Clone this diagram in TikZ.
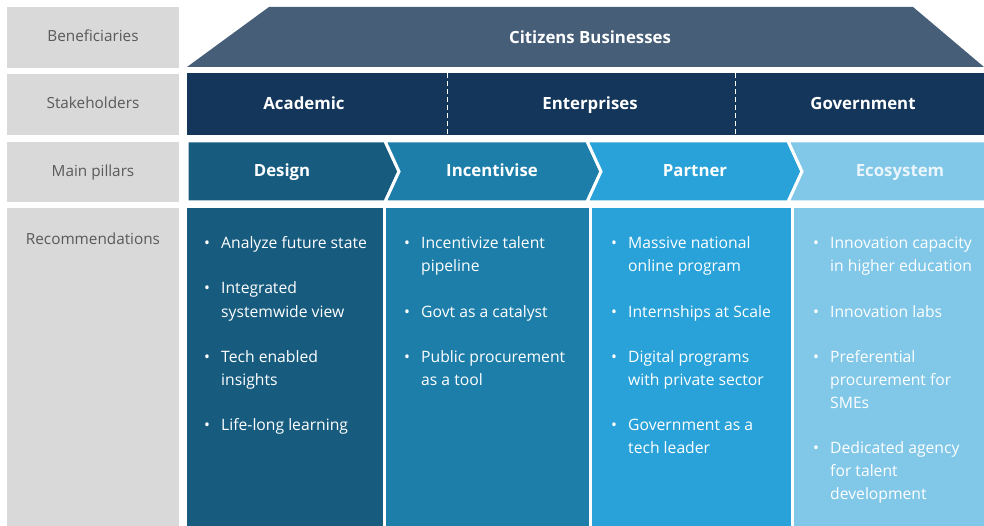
\documentclass[tikz,border=0pt]{standalone}
\usepackage{fontspec}
\setmainfont{Open Sans}
\definecolor{grayb}{HTML}{D9D9D9}
\definecolor{grayt}{HTML}{595959}
\definecolor{benef}{HTML}{465E78}
\definecolor{stake}{HTML}{13365A}
\definecolor{cdes}{HTML}{175B7F}
\definecolor{cinc}{HTML}{1D7EA9}
\definecolor{cpar}{HTML}{28A2D8}
\definecolor{ceco}{HTML}{80C7E8}
\definecolor{ecot}{HTML}{EAF6FB}
\begin{document}
\begin{tikzpicture}[x=1pt,y=-1pt,
  labbox/.style={fill=grayb,draw=none,inner sep=0,minimum width=172pt},
  labtxt/.style={text=grayt,font=\fontsize{15.3}{18}\selectfont,inner sep=0,anchor=base},
  head/.style={text=white,font=\fontsize{16.8}{20}\bfseries\selectfont,inner sep=0,anchor=base},
  chev/.style={draw=white,line width=3pt,line join=miter},
  body/.style={font=\fontsize{15.7}{23}\selectfont,inner sep=0,anchor=base west,text=white},
  bul/.style={font=\fontsize{15.7}{23}\selectfont,inner sep=0,anchor=base west,text=white},
]
\useasboundingbox (0,0) rectangle (984,526);
\fill[white] (0,0) rectangle (984,526);
% label column
\node[labbox,minimum height=61pt,anchor=north west] (lb1) at (7,7) {};
\node[labbox,minimum height=61pt,anchor=north west] (lb2) at (7,74) {};
\node[labbox,minimum height=60pt,anchor=north west] (lb3) at (7,142) {};
\node[labbox,minimum height=318pt,anchor=north west] (lb4) at (7,208) {};
\node[labtxt] (t1) at (93,41.5) {Beneficiaries};
\node[labtxt] (t2) at (93,108.5) {Stakeholders};
\node[labtxt] (t3) at (93,176.5) {Main pillars};
\node[labtxt] (t4) at (93,244.5) {Recommendations};
% beneficiaries trapezoid
\fill[benef] (269,7) -- (913,7) -- (984,67) -- (187,67) -- cycle;
\node[head] (ben) at (590,44) {Citizens Businesses};
% stakeholders
\fill[stake] (187,73) rectangle (984,135);
\draw[white,line width=1pt,dash pattern=on 5pt off 3pt] (447,73) -- (447,135);
\draw[white,line width=1pt,dash pattern=on 5pt off 3pt] (735,73) -- (735,135);
\node[head] (sa) at (304,110) {Academic};
\node[head] (se) at (590,110) {Enterprises};
\node[head] (sg) at (863,110) {Government};
% pillars
\fill[cdes] (187,141) rectangle (984,202);
\filldraw[chev,fill=cdes] (187,141) -- (385,141) -- (399,171.5) -- (385,202) -- (187,202) -- cycle;
\filldraw[chev,fill=cinc] (385,141) -- (587,141) -- (601,171.5) -- (587,202) -- (385,202) -- (399,171.5) -- cycle;
\filldraw[chev,fill=cpar] (587,141) -- (788,141) -- (802,171.5) -- (788,202) -- (587,202) -- (601,171.5) -- cycle;
\filldraw[chev,fill=ceco] (788,141) -- (990,141) -- (990,202) -- (788,202) -- (802,171.5) -- cycle;
\fill[white] (185,139) rectangle (187,204);
\node[head] (pd) at (282,177) {Design};
\node[head] (pi) at (492,177) {Incentivise};
\node[head] (pp) at (695,177) {Partner};
\node[head,text=ecot] (pe) at (900,177) {Ecosystem};
% recommendation columns
\fill[cdes] (187,208) rectangle (383,526);
\fill[cinc] (386,208) rectangle (589,526);
\fill[cpar] (592,208) rectangle (791,526);
\fill[ceco] (794,208) rectangle (984,526);
% Design items
\node[bul] (d0) at (204,249) {•};
\node[body] (d1) at (221,249) {Analyze future state};
\node[bul] (d2b) at (204,294) {•};
\node[body] (d2) at (221,294) {Integrated};
\node[body] (d2x) at (221,317) {systemwide view};
\node[bul] (d3b) at (204,362) {•};
\node[body] (d3) at (221,362) {Tech enabled};
\node[body] (d3x) at (221,385) {insights};
\node[bul] (d4b) at (204,430) {•};
\node[body] (d4) at (221,430) {Life-long learning};
% Incentivise items
\node[bul] (i1b) at (404,249) {•};
\node[body] (i1) at (421,249) {Incentivize talent};
\node[body] (i1x) at (421,272) {pipeline};
\node[bul] (i2b) at (404,317) {•};
\node[body] (i2) at (421,317) {Govt as a catalyst};
\node[bul] (i3b) at (404,362) {•};
\node[body] (i3) at (421,362) {Public procurement};
\node[body] (i3x) at (421,385) {as a tool};
% Partner items
\node[bul] (p1b) at (611,249) {•};
\node[body] (p1) at (628,249) {Massive national};
\node[body] (p1x) at (628,272) {online program};
\node[bul] (p2b) at (611,317) {•};
\node[body] (p2) at (628,317) {Internships at Scale};
\node[bul] (p3b) at (611,362) {•};
\node[body] (p3) at (628,362) {Digital programs};
\node[body] (p3x) at (628,385) {with private sector};
\node[bul] (p4b) at (611,430) {•};
\node[body] (p4) at (628,430) {Government as a};
\node[body] (p4x) at (628,453) {tech leader};
% Ecosystem items
\begin{scope}[every node/.append style={text=ecot}]
\node[bul] (e1b) at (813,249) {•};
\node[body] (e1) at (830,249) {Innovation capacity};
\node[body] (e1x) at (830,272) {in higher education};
\node[bul] (e2b) at (813,317) {•};
\node[body] (e2) at (830,317) {Innovation labs};
\node[bul] (e3b) at (813,362) {•};
\node[body] (e3) at (830,362) {Preferential};
\node[body] (e3x) at (830,385) {procurement for};
\node[body] (e3y) at (830,408) {SMEs};
\node[bul] (e4b) at (813,453) {•};
\node[body] (e4) at (830,453) {Dedicated agency};
\node[body] (e4x) at (830,476) {for talent};
\node[body] (e4y) at (830,499) {development};
\end{scope}
\end{tikzpicture}
\end{document}
